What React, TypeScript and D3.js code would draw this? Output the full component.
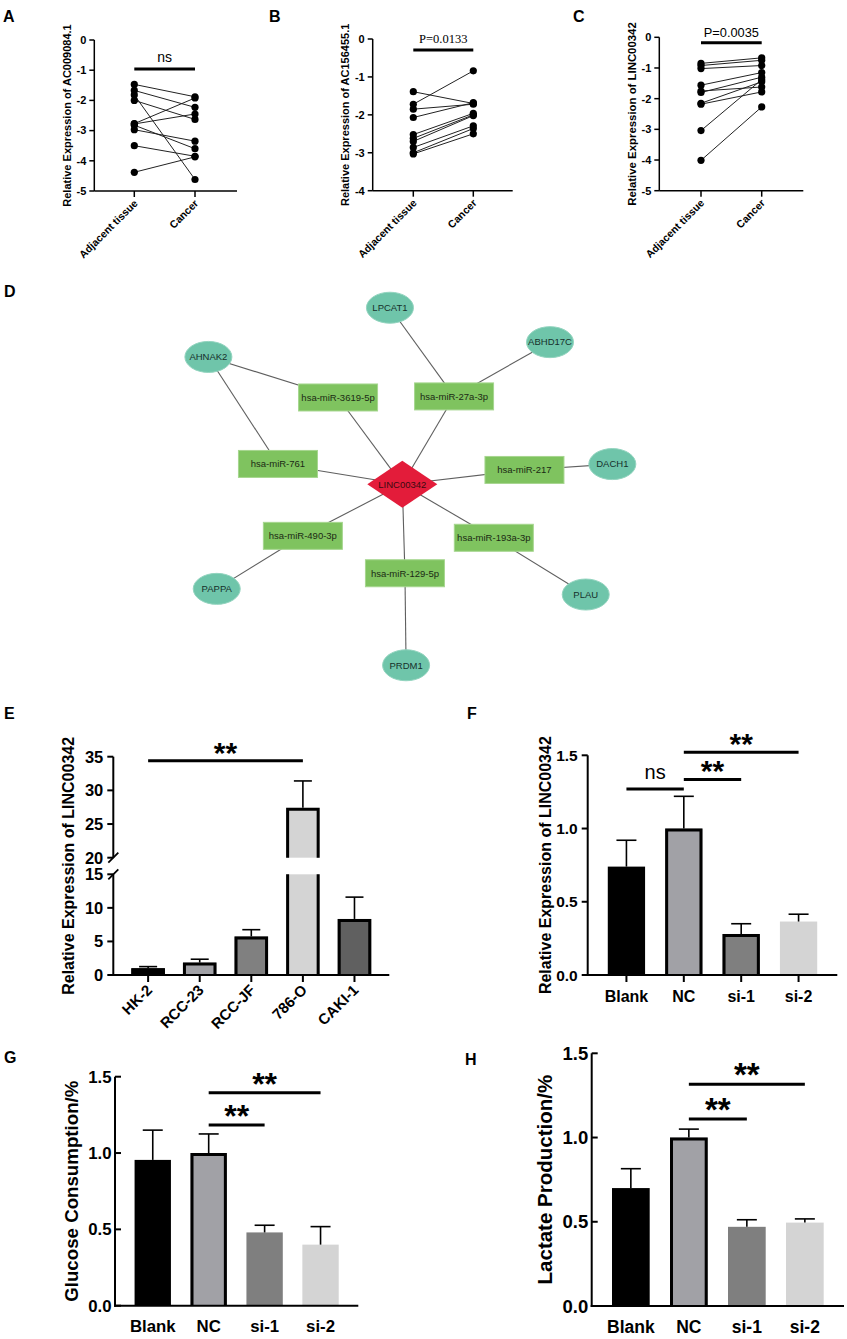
import * as d3 from 'd3';
import React from 'react';

const FONT = '"Liberation Sans", Arial, Helvetica, sans-serif';
const SERIF = '"Liberation Serif", "Times New Roman", serif';

// ---- A-C: paired tissue expression ----
const pairGroups = ['Adjacent tissue', 'Cancer'];
const ac009084Adjacent = [-1.47, -1.67, -1.82, -2.0, -2.77, -2.78, -2.97, -2.82, -3.5, -4.38];
const ac009084Cancer = [-1.88, -2.23, -4.62, -2.63, -1.92, -2.45, -3.35, -3.6, -3.85, -3.87];
const ac156455Adjacent = [-1.39, -1.72, -1.85, -2.07, -2.52, -2.62, -2.7, -2.86, -3.0, -3.03];
const ac156455Cancer = [-1.7, -0.84, -1.72, -1.68, -1.96, -2.0, -2.02, -2.29, -2.36, -2.5];
const linc00342Adjacent = [-0.85, -0.92, -1.02, -1.56, -1.75, -1.8, -2.15, -2.18, -3.04, -4.01];
const linc00342Cancer = [-0.67, -0.75, -0.92, -1.15, -1.62, -1.3, -1.45, -1.78, -1.38, -2.27];

// ---- D: ceRNA network ----
const hubName = 'LINC00342';
const mirnas = ['hsa-miR-3619-5p', 'hsa-miR-27a-3p', 'hsa-miR-761', 'hsa-miR-217', 'hsa-miR-490-3p', 'hsa-miR-193a-3p', 'hsa-miR-129-5p'];
const targets = ['AHNAK2', 'LPCAT1', 'ABHD17C', 'DACH1', 'PAPPA', 'PLAU', 'PRDM1'];
const targetLinks: [string, string][] = [
  ['AHNAK2', 'hsa-miR-3619-5p'],
  ['AHNAK2', 'hsa-miR-761'],
  ['LPCAT1', 'hsa-miR-27a-3p'],
  ['ABHD17C', 'hsa-miR-27a-3p'],
  ['DACH1', 'hsa-miR-217'],
  ['PAPPA', 'hsa-miR-490-3p'],
  ['PLAU', 'hsa-miR-193a-3p'],
  ['PRDM1', 'hsa-miR-129-5p'],
];

// ---- E: cell lines ----
const cellLines = ['HK-2', 'RCC-23', 'RCC-JF', '786-O', 'CAKI-1'];
const cellExpr = [1.0, 1.85, 5.75, 27.4, 8.35];
const cellSd = [0.25, 0.5, 1.0, 4.0, 3.25];

// ---- F-H: knockdown ----
const siGroups = ['Blank', 'NC', 'si-1', 'si-2'];
const knockExpr = [0.74, 1.0, 0.28, 0.365];
const knockSd = [0.18, 0.22, 0.07, 0.05];
const glucose = [0.955, 1.0, 0.48, 0.4];
const glucoseSd = [0.195, 0.125, 0.047, 0.118];
const lactate = [0.7, 1.0, 0.47, 0.495];
const lactateSd = [0.115, 0.05, 0.042, 0.022];

const siFills = ['#000000', '#a1a1a6', '#7f7f7f', '#d4d4d4'];
const cellFills = ['#000000', '#a1a1a6', '#808080', '#d4d4d4', '#606060'];

// polar layout of the network around the hub (deg, px)
const netLayout: Record<string, [number, number]> = {
  'hsa-miR-3619-5p': [-36.5, 108],
  'hsa-miR-27a-3p': [30.5, 102],
  'hsa-miR-761': [-80.7, 126],
  'hsa-miR-217': [83.3, 123],
  'hsa-miR-490-3p': [-117.4, 112],
  'hsa-miR-193a-3p': [120.3, 106],
  'hsa-miR-129-5p': [178.3, 89],
  AHNAK2: [-56.7, 232],
  LPCAT1: [-4, 177],
  ABHD17C: [46.1, 205],
  DACH1: [84.5, 211],
  PAPPA: [-119.4, 213],
  PLAU: [121, 214],
  PRDM1: [178.8, 181],
};

const Letter = ({ x, y, t }: { x: number; y: number; t: string }) => (
  <text x={x} y={y} fontFamily={FONT} fontWeight="bold" fontSize={16}>{t}</text>
);

const YLabel = ({ x, y, size, text }: { x: number; y: number; size: number; text: string }) => (
  <text transform={`translate(${x},${y}) rotate(-90)`} dy="0.35em" textAnchor="middle" fontFamily={FONT} fontWeight="bold" fontSize={size}>
    {text}
  </text>
);

interface PairCfg {
  ax: number; yTop: number; yBot: number; xEnd: number; x1: number; x2: number; min: number;
  adjacent: number[]; cancer: number[]; label: string; labelX: number; labelSize: number;
  sig: string; sigFamily: string; sigSize: number; sigY: number; barY: number;
}

const PairPanel = (c: PairCfg) => {
  const y = d3.scaleLinear().domain([c.min, 0]).range([c.yBot, c.yTop]);
  const x = d3.scalePoint<string>().domain(pairGroups).range([c.x1, c.x2]);
  const ticks = y.ticks(Math.abs(c.min));
  const line = d3.line<[string, number]>().x((d) => x(d[0]) as number).y((d) => y(d[1]));
  const pairs = c.adjacent.map((v, i) => [[pairGroups[0], v], [pairGroups[1], c.cancer[i]]] as [string, number][]);
  return (
    <g fontFamily={FONT}>
      <line x1={c.ax} x2={c.ax} y1={c.yTop} y2={c.yBot} stroke="#000" strokeWidth={1.5} />
      <line x1={c.ax} x2={c.xEnd} y1={c.yBot} y2={c.yBot} stroke="#000" strokeWidth={1.5} />
      {ticks.map((t) => (
        <g key={t}>
          <line x1={c.ax - 5} x2={c.ax} y1={y(t)} y2={y(t)} stroke="#000" strokeWidth={1.5} />
          <text x={c.ax - 8} y={y(t)} dy="0.35em" textAnchor="end" fontSize={11} fontWeight="bold">{t}</text>
        </g>
      ))}
      {pairGroups.map((g) => (
        <g key={g}>
          <line x1={x(g)} x2={x(g)} y1={c.yBot} y2={c.yBot + 6} stroke="#000" strokeWidth={1.5} />
          <text transform={`translate(${(x(g) as number) + 4},${c.yBot + 13}) rotate(-45)`} textAnchor="end" fontSize={10.5} fontWeight="bold">{g}</text>
        </g>
      ))}
      {pairs.map((p, i) => (
        <path key={i} d={line(p) as string} fill="none" stroke="#222" strokeWidth={1} />
      ))}
      {pairs.flat().map((d, i) => (
        <circle key={i} cx={x(d[0])} cy={y(d[1])} r={3.6} fill="#000" />
      ))}
      <line x1={c.x1} x2={c.x2} y1={c.barY} y2={c.barY} stroke="#000" strokeWidth={3} />
      <text x={(c.x1 + c.x2) / 2} y={c.sigY} textAnchor="middle" fontFamily={c.sigFamily} fontSize={c.sigSize}>{c.sig}</text>
      <YLabel x={c.labelX} y={(c.yTop + c.yBot) / 2} size={c.labelSize} text={c.label} />
    </g>
  );
};

const Network = () => {
  const hub: [number, number] = [402.3, 484.3];
  const pos = (n: string): [number, number] => {
    if (n === hubName) return hub;
    const [a, r] = netLayout[n];
    const p = d3.pointRadial((a * Math.PI) / 180, r);
    return [hub[0] + p[0], hub[1] + p[1]];
  };
  const links: [string, string][] = [...mirnas.map((m) => [hubName, m] as [string, string]), ...targetLinks];
  const rw = 79, rh = 27, erx = 23.5, ery = 15.5, dw = 35, dh = 23.5;
  return (
    <g fontFamily={FONT} fontSize={9.5}>
      {links.map(([a, b], i) => {
        const p = pos(a), q = pos(b);
        return <line key={i} x1={p[0]} y1={p[1]} x2={q[0]} y2={q[1]} stroke="#5f5f5f" strokeWidth={1.1} />;
      })}
      {mirnas.map((m) => {
        const [cx, cy] = pos(m);
        return (
          <g key={m}>
            <rect x={cx - rw / 2} y={cy - rh / 2} width={rw} height={rh} fill="#7fc35f" stroke="#a6d68f" strokeWidth={1} />
            <text x={cx} y={cy} dy="0.35em" textAnchor="middle" fill="#1b2a14">{m}</text>
          </g>
        );
      })}
      {targets.map((t) => {
        const [cx, cy] = pos(t);
        return (
          <g key={t}>
            <ellipse cx={cx} cy={cy} rx={erx} ry={ery} fill="#6fc5aa" stroke="#93d4bf" strokeWidth={1} />
            <text x={cx} y={cy} dy="0.35em" textAnchor="middle" fill="#16302a">{t}</text>
          </g>
        );
      })}
      <path d={`M${hub[0] - dw},${hub[1]}L${hub[0]},${hub[1] - dh}L${hub[0] + dw},${hub[1]}L${hub[0]},${hub[1] + dh}Z`} fill="#e31c3a" />
      <text x={hub[0]} y={hub[1]} dy="0.35em" textAnchor="middle" fill="#3a0a10">{hubName}</text>
    </g>
  );
};

type Seg = { domain: [number, number]; range: [number, number]; ticks: number[] };
type Sig = { from: number; to: number; at: number; text: string; size: number; gap: number; bold: boolean };

interface BarCfg {
  cats: string[]; values: number[]; sds: number[]; fills: string[]; outlined: boolean[];
  segs: Seg[]; ax: number; xEnd: number; label: string; labelX: number; labelSize: number;
  tickSize: number; catSize: number; catY: number; rotateCats: boolean; tickIn: boolean; catTicks: boolean;
  fmt: (v: number) => string; sigs: Sig[]; capW: number;
}

const BarPanel = (c: BarCfg) => {
  const scales = c.segs.map((s) => d3.scaleLinear().domain(s.domain).range(s.range));
  const yv = (v: number) => {
    const i = c.segs.findIndex((s) => v <= s.domain[1]);
    return scales[i < 0 ? scales.length - 1 : i](v);
  };
  const x = d3.scaleBand<string>().domain(c.cats).range([c.ax, c.xEnd]).paddingInner(0.35).paddingOuter(0.35);
  const bw = x.bandwidth();
  const y0 = c.segs[0].range[0];
  const sw = 3;
  return (
    <g fontFamily={FONT}>
      {c.cats.map((cat, i) => {
        const v = c.values[i];
        const x0 = x(cat) as number;
        return (
          <g key={cat}>
            {c.segs.map((s, si) => {
              if (v <= s.domain[0]) return null;
              const top = Math.min(v, s.domain[1]);
              const yb = scales[si](s.domain[0]);
              const yt = scales[si](top);
              const isTop = v <= s.domain[1] || si === c.segs.length - 1;
              return (
                <g key={si}>
                  <rect x={x0} y={yt} width={bw} height={yb - yt} fill={c.fills[i]} />
                  {c.outlined[i] && (
                    <path
                      d={
                        isTop
                          ? `M${x0 + sw / 2},${yb}V${yt + sw / 2}H${x0 + bw - sw / 2}V${yb}`
                          : `M${x0 + sw / 2},${yb}V${yt}M${x0 + bw - sw / 2},${yt}V${yb}`
                      }
                      fill="none"
                      stroke="#000"
                      strokeWidth={sw}
                    />
                  )}
                </g>
              );
            })}
            <line x1={x0 + bw / 2} x2={x0 + bw / 2} y1={yv(v)} y2={yv(v + c.sds[i])} stroke="#000" strokeWidth={1.6} />
            <line x1={x0 + bw / 2 - c.capW / 2} x2={x0 + bw / 2 + c.capW / 2} y1={yv(v + c.sds[i])} y2={yv(v + c.sds[i])} stroke="#000" strokeWidth={1.6} />
          </g>
        );
      })}
      {c.segs.map((s, si) => (
        <g key={si}>
          <line x1={c.ax} x2={c.ax} y1={s.range[0] + (si === 0 ? 1 : 0)} y2={s.range[1]} stroke="#000" strokeWidth={2} />
          {s.ticks.map((t) => (
            <g key={t}>
              <line x1={c.tickIn ? c.ax : c.ax - 6} x2={c.tickIn ? c.ax + 6 : c.ax} y1={scales[si](t)} y2={scales[si](t)} stroke="#000" strokeWidth={2} />
              <text x={c.tickIn ? c.ax - 3.5 : c.ax - 10} y={scales[si](t)} dy="0.36em" textAnchor="end" fontSize={c.tickSize} fontWeight="bold">{c.fmt(t)}</text>
            </g>
          ))}
          {si > 0 && (
            <>
              <line x1={c.ax - 5} x2={c.ax + 5} y1={s.range[0] + 5} y2={s.range[0] - 5} stroke="#000" strokeWidth={1.8} />
              <line x1={c.ax - 5} x2={c.ax + 5} y1={c.segs[si - 1].range[1] + 5} y2={c.segs[si - 1].range[1] - 5} stroke="#000" strokeWidth={1.8} />
            </>
          )}
        </g>
      ))}
      <line x1={c.ax - 1} x2={c.xEnd} y1={y0} y2={y0} stroke="#000" strokeWidth={2} />
      {c.cats.map((cat) => {
        const cx = (x(cat) as number) + bw / 2;
        return (
          <g key={cat}>
            {c.catTicks && <line x1={cx} x2={cx} y1={y0} y2={y0 + 7} stroke="#000" strokeWidth={2} />}
            {c.rotateCats ? (
              <text transform={`translate(${cx + 5},${c.catY}) rotate(-45)`} textAnchor="end" fontSize={c.catSize} fontWeight="bold">{cat}</text>
            ) : (
              <text x={cx} y={c.catY} textAnchor="middle" fontSize={c.catSize} fontWeight="bold">{cat}</text>
            )}
          </g>
        );
      })}
      {c.sigs.map((s, i) => {
        const x1 = (x(c.cats[s.from]) as number) + bw / 2;
        const x2 = (x(c.cats[s.to]) as number) + bw / 2;
        const ly = yv(s.at);
        return (
          <g key={i}>
            <line x1={x1} x2={x2} y1={ly} y2={ly} stroke="#000" strokeWidth={3} />
            <text x={(x1 + x2) / 2} y={ly - s.gap} textAnchor="middle" fontSize={s.size} fontWeight={s.bold ? 'bold' : 'normal'}>{s.text}</text>
          </g>
        );
      })}
      <YLabel x={c.labelX} y={(c.segs[0].range[0] + c.segs[c.segs.length - 1].range[1]) / 2} size={c.labelSize} text={c.label} />
    </g>
  );
};

const f1 = d3.format('.1f');
const star = (from: number, to: number, at: number, size: number): Sig => ({ from, to, at, text: '**', size, gap: -2, bold: true });

const App = () => (
  <svg width={847} height={1339} viewBox="0 0 847 1339" style={{ position: 'absolute', left: 0, top: 0, background: '#fff' }}>
    <rect width={847} height={1339} fill="#fff" />
    <Letter x={3} y={22} t="A" />
    <Letter x={269} y={22} t="B" />
    <Letter x={573} y={22} t="C" />
    <Letter x={4} y={297} t="D" />
    <Letter x={4} y={719} t="E" />
    <Letter x={467} y={719} t="F" />
    <Letter x={4} y={1063} t="G" />
    <Letter x={465} y={1065} t="H" />

    <PairPanel ax={94.3} yTop={40} yBot={191} xEnd={237} x1={134.3} x2={195} min={-5}
      adjacent={ac009084Adjacent} cancer={ac009084Cancer} label="Relative Expression of AC009084.1" labelX={67} labelSize={11}
      sig="ns" sigFamily={FONT} sigSize={14} sigY={62.3} barY={69} />
    <PairPanel ax={372.7} yTop={39} yBot={190.7} xEnd={512.7} x1={413.3} x2={473.3} min={-4}
      adjacent={ac156455Adjacent} cancer={ac156455Cancer} label="Relative Expression of AC156455.1" labelX={345} labelSize={11}
      sig="P=0.0133" sigFamily={SERIF} sigSize={12.5} sigY={43.3} barY={50} />
    <PairPanel ax={659.3} yTop={37.3} yBot={190.7} xEnd={803.3} x1={701} x2={761.7} min={-5}
      adjacent={linc00342Adjacent} cancer={linc00342Cancer} label="Relative Expression of LINC00342" labelX={631.7} labelSize={11.4}
      sig="P=0.0035" sigFamily={FONT} sigSize={12.8} sigY={36.7} barY={42.7} />

    <Network />

    <BarPanel cats={cellLines} values={cellExpr} sds={cellSd} fills={cellFills} outlined={[true, true, true, true, true]}
      segs={[
        { domain: [0, 15], range: [975, 874.3], ticks: [0, 5, 10, 15] },
        { domain: [20, 35], range: [857.7, 756.7], ticks: [20, 25, 30, 35] },
      ]}
      ax={113.3} xEnd={389.3} label="Relative Expression of LINC00342" labelX={68.3} labelSize={16}
      tickSize={16.5} catSize={15} catY={991} rotateCats={true} tickIn={false} catTicks={true}
      fmt={(v) => String(v)} capW={18} sigs={[star(0, 3, 34.4, 30)]} />

    <BarPanel cats={siGroups} values={knockExpr} sds={knockSd} fills={siFills} outlined={[false, true, true, false]}
      segs={[{ domain: [0, 1.5], range: [975, 755.3], ticks: [0, 0.5, 1, 1.5] }]}
      ax={587.7} xEnd={837.3} label="Relative Expression of LINC00342" labelX={545} labelSize={16}
      tickSize={15.5} catSize={16} catY={1001.7} rotateCats={false} tickIn={false} catTicks={true}
      fmt={f1} capW={20}
      sigs={[
        { from: 0, to: 1, at: 1.27, text: 'ns', size: 20, gap: 10.4, bold: false },
        star(1, 2, 1.335, 30),
        star(1, 3, 1.52, 30),
      ]} />

    <BarPanel cats={siGroups} values={glucose} sds={glucoseSd} fills={siFills} outlined={[false, true, false, false]}
      segs={[{ domain: [0, 1.5], range: [1305.7, 1076.7], ticks: [0, 0.5, 1, 1.5] }]}
      ax={115} xEnd={358.3} label="Glucose Consumption/%" labelX={71.7} labelSize={18.7}
      tickSize={16.8} catSize={16.8} catY={1332} rotateCats={false} tickIn={true} catTicks={false}
      fmt={f1} capW={20}
      sigs={[star(1, 2, 1.183, 32), star(1, 3, 1.395, 32)]} />

    <BarPanel cats={siGroups} values={lactate} sds={lactateSd} fills={siFills} outlined={[false, true, false, false]}
      segs={[{ domain: [0, 1.5], range: [1306, 1053.3], ticks: [0, 0.5, 1, 1.5] }]}
      ax={591.7} xEnd={844} label="Lactate Production/%" labelX={545} labelSize={20.5}
      tickSize={18.5} catSize={17.5} catY={1333} rotateCats={false} tickIn={true} catTicks={false}
      fmt={f1} capW={20}
      sigs={[star(1, 2, 1.11, 33), star(1, 3, 1.316, 33)]} />
  </svg>
);

export default App;
